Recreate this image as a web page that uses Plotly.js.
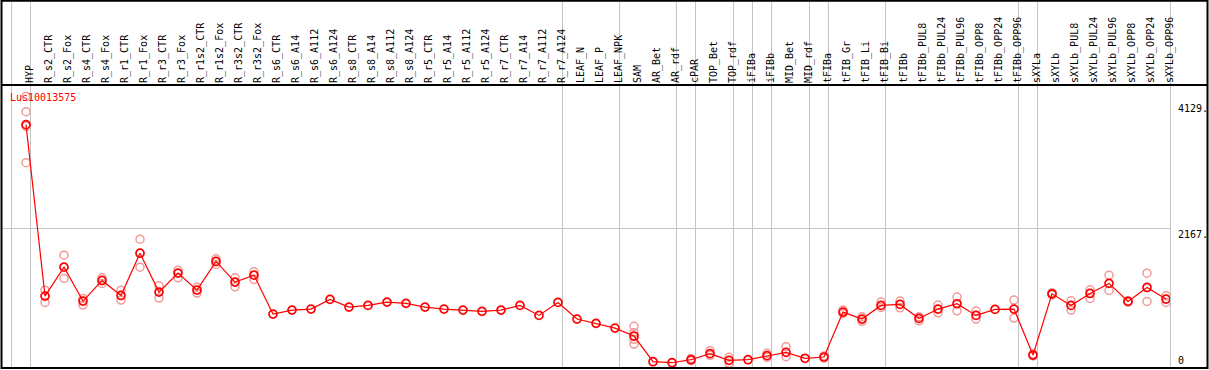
<!DOCTYPE html>
<html>
<head>
<meta charset="utf-8">
<script src="https://cdn.plot.ly/plotly-3.0.1.min.js"></script>
<style>
  html, body { margin: 0; padding: 0; background: #ffffff; }
  #chart { width: 1209px; height: 370px; }
</style>
</head>
<body>
<div id="chart"></div>
<script>
// ---- data ----
const geneName = 'Lus10013575';

const categories = [
  'HYP', 'R_s2_CTR', 'R_s2_Fox', 'R_s4_CTR', 'R_s4_Fox', 'R_r1_CTR', 'R_r1_Fox',
  'R_r3_CTR', 'R_r3_Fox', 'R_r1s2_CTR', 'R_r1s2_Fox', 'R_r3s2_CTR', 'R_r3s2_Fox',
  'R_s6_CTR', 'R_s6_A14', 'R_s6_A112', 'R_s6_A124', 'R_s8_CTR', 'R_s8_A14',
  'R_s8_A112', 'R_s8_A124', 'R_r5_CTR', 'R_r5_A14', 'R_r5_A112', 'R_r5_A124',
  'R_r7_CTR', 'R_r7_A14', 'R_r7_A112', 'R_r7_A124', 'LEAF_N', 'LEAF_P', 'LEAF_NPK',
  'SAM', 'AR_Bet', 'AR_rdf', 'cPAR', 'TOP_Bet', 'TOP_rdf', 'iFIBa', 'iFIBb',
  'MID_Bet', 'MID_rdf', 'tFIBa', 'tFIB_Gr', 'tFIB_Li', 'tFIB_Bi', 'tFIBb',
  'tFIBb_PUL8', 'tFIBb_PUL24', 'tFIBb_PUL96', 'tFIBb_OPP8', 'tFIBb_OPP24', 'tFIBb_OPP96',
  'sXYLa', 'sXYLb', 'sXYLb_PUL8', 'sXYLb_PUL24', 'sXYLb_PUL96', 'sXYLb_OPP8',
  'sXYLb_OPP24', 'sXYLb_OPP96'
];

const meanValues = [
  3789, 1111, 1563, 1033, 1355, 1121, 1781,
  1173, 1470, 1204, 1652, 1329, 1438,
  830, 892, 908, 1059, 939, 965,
  1017, 997, 939, 908, 892, 872,
  892, 965, 809, 1012, 752, 685, 611,
  487, 86, 70, 117, 211, 107, 117, 180,
  232, 139, 159, 861, 752, 965, 981,
  762, 908, 991, 809, 903, 908,
  190, 1147, 965, 1152, 1309, 1028,
  1246, 1064
];

const replicateValues = [
  [4231, 3992, 3763, 3196], [1204, 1012], [1750, 1386], [1075, 970], [1397, 1309], [1204, 1048], [2000, 1563],
  [1272, 1080], [1516, 1397], [1251, 1158], [1693, 1605], [1397, 1256], [1490, 1371],
  [], [], [], [], [], [],
  [], [], [], [], [], [],
  [], [], [], [], [], [], [],
  [638, 540, 435, 362], [], [], [133, 101], [258, 185], [154, 61], [], [216, 154],
  [320, 164], [], [175, 143], [892, 840], [788, 716], [1017, 934], [1033, 928],
  [788, 725], [970, 850], [1095, 881], [877, 752], [], [1048, 767],
  [205, 175], [1163, 1131], [1038, 892], [1209, 1075], [1438, 1199], [1038, 1018],
  [1469, 1028], [1115, 1012]
];

// last category of each sample group (a separator line follows it)
const groupEnds = [
  'HYP', 'R_r7_A124', 'LEAF_NPK', 'AR_rdf', 'cPAR', 'TOP_rdf', 'iFIBa', 'iFIBb',
  'MID_rdf', 'tFIBa', 'tFIB_Bi', 'tFIBb_OPP96', 'sXYLa', 'sXYLb_OPP96'
];

const yTickValues = [4129, 2167, 0];
const yTickLabels = ['4129.', '2167.', '0'];

// ---- build ----
const XR = [-1.263, 60.21];
const YR = [-12.5, 4409];
const W = 1209, H = 370;
const M = {l: 2, r: 39, t: 85, b: 2};
const plotW = W - M.l - M.r, plotH = H - M.t - M.b;

const repX = [], repY = [];
replicateValues.forEach((arr, i) => arr.forEach(v => { repX.push(categories[i]); repY.push(v); }));

const mono = 'DejaVu Sans Mono, monospace';

const traces = [
  {
    type: 'scatter', mode: 'markers', x: repX, y: repY,
    marker: {symbol: 'circle-open', size: 8, color: '#f29a9a', line: {width: 1.5, color: '#f29a9a'}},
    hoverinfo: 'skip', showlegend: false
  },
  {
    type: 'scatter', mode: 'lines+markers', x: categories, y: meanValues,
    line: {color: '#ff0000', width: 1.2},
    marker: {symbol: 'circle-open', size: 8, color: '#ff0000', line: {width: 1.7, color: '#ff0000'}},
    showlegend: false
  }
];

const xPaper = idx => (idx - XR[0]) / (XR[1] - XR[0]);
const pxX = px => (px - M.l) / plotW;
const pxY = py => (H - M.b - py) / plotH;
const sepOffset = 0.237;

const shapes = [];
const sepIdx = [-1].concat(groupEnds.map(c => categories.indexOf(c)));
sepIdx.forEach(i => {
  const xp = xPaper(i + sepOffset);
  shapes.push({type: 'line', xref: 'paper', yref: 'paper', x0: xp, x1: xp, y0: 0, y1: pxY(0),
    line: {color: '#c4c4c4', width: 1}, layer: 'below'});
});
shapes.push({type: 'line', xref: 'paper', yref: 'y', x0: 0, x1: 1, y0: yTickValues[1], y1: yTickValues[1],
  line: {color: '#c4c4c4', width: 1}, layer: 'below'});
shapes.push({type: 'rect', xref: 'paper', yref: 'paper', x0: pxX(1.5), x1: pxX(1207.5), y0: pxY(368), y1: pxY(0.7),
  line: {color: '#000000', width: 2}, fillcolor: 'rgba(0,0,0,0)'});
shapes.push({type: 'line', xref: 'paper', yref: 'paper', x0: pxX(1.5), x1: pxX(1207.5), y0: pxY(85), y1: pxY(85),
  line: {color: '#000000', width: 2}});

const annotations = [
  {xref: 'paper', yref: 'paper', x: pxX(8.5), y: pxY(90.5), xanchor: 'left', yanchor: 'top',
   text: geneName, showarrow: false, borderpad: 0, font: {family: mono, size: 10, color: '#ff0000'}}
];
yTickValues.forEach((v, k) => {
  annotations.push({xref: 'paper', yref: 'y', x: 1, y: v, xanchor: 'left',
    yanchor: v === 0 ? 'bottom' : 'top', xshift: 7, yshift: v === 0 ? 0 : 1,
    text: yTickLabels[k], showarrow: false, borderpad: 0,
    font: {family: mono, size: 10, color: '#000000'}});
});

const layout = {
  width: W, height: H,
  margin: M,
  paper_bgcolor: '#ffffff', plot_bgcolor: '#ffffff',
  showlegend: false,
  xaxis: {
    type: 'category', categoryorder: 'array', categoryarray: categories,
    range: XR, side: 'top', tickangle: -90, ticks: '',
    tickmode: 'array', tickvals: categories, ticktext: categories,
    ticklabelshift: 4, ticklabelstandoff: 1,
    tickfont: {family: mono, size: 10, color: '#000000'},
    showgrid: false, zeroline: false, showline: false, fixedrange: true,
    automargin: false
  },
  yaxis: {
    range: YR, showgrid: false, zeroline: false, showline: false,
    showticklabels: false, ticks: '', fixedrange: true
  },
  shapes: shapes,
  annotations: annotations
};

Plotly.newPlot('chart', traces, layout, {displayModeBar: false, staticPlot: true});
</script>
</body>
</html>
